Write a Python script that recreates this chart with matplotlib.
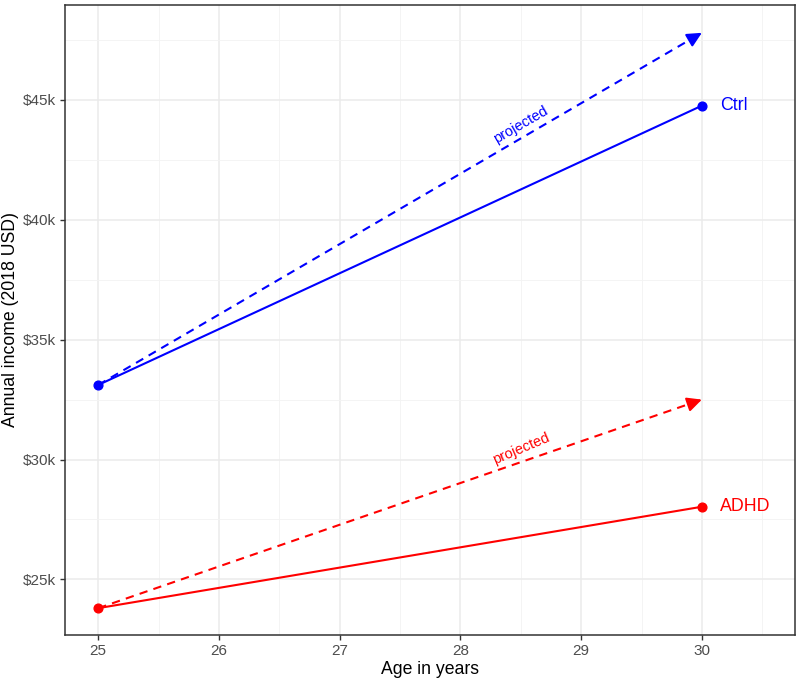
import matplotlib
matplotlib.use("Agg")
import matplotlib.pyplot as plt
from matplotlib.ticker import FuncFormatter, MultipleLocator

plt.rcParams["font.family"] = ["Liberation Sans", "DejaVu Sans"]

# dane
ages = [25, 30]
ctrl_income = [33110, 44760]
adhd_income = [23800, 28030]
ctrl_projected = [33110, 47800]
adhd_projected = [23800, 32500]
group_names = ["Ctrl", "ADHD"]
group_colors = ["blue", "red"]
text_angles = [30, 23]

fig = plt.figure(figsize=(8, 6.82), dpi=100)
ax = fig.add_axes([0.0816, 0.0689, 0.9124, 0.9245])

series = [(ctrl_income, ctrl_projected), (adhd_income, adhd_projected)]
for (actual, proj), name, col, ang in zip(series, group_names, group_colors, text_angles):
    ax.plot(ages, actual, color=col, lw=1.5, marker="o", markersize=6.3, zorder=3)
    ax.plot(ages, proj, color=col, lw=1.5, linestyle=(0, (4, 3)), zorder=3)
    # grot strzalki na koncu linii prognozy
    x0 = ages[1] - 0.02 * (ages[1] - ages[0])
    y0 = proj[1] - 0.02 * (proj[1] - proj[0])
    ax.annotate("", xy=(ages[1], proj[1]), xytext=(x0, y0),
                arrowprops=dict(arrowstyle="-|>,head_length=0.55,head_width=0.27",
                                color=col, lw=1.5,
                                mutation_scale=16, shrinkA=0, shrinkB=0),
                zorder=4)
    # napis "projected"
    xm = 28.5
    ym = proj[0] + (proj[1] - proj[0]) * (xm - ages[0]) / (ages[1] - ages[0])
    ax.annotate("projected", xy=(xm, ym), xytext=(0, 10), textcoords="offset points",
                color=col, fontsize=10.5, rotation=ang, ha="center", va="center",
                rotation_mode="anchor")
    ax.text(30.15, actual[1], name, color=col, fontsize=12.8, ha="left", va="center")

ax.set_xlim(24.727, 30.773)
ax.set_ylim(22680, 48980)
ax.xaxis.set_major_locator(MultipleLocator(1))
ax.xaxis.set_minor_locator(MultipleLocator(0.5))
ax.yaxis.set_major_locator(MultipleLocator(5000))
ax.yaxis.set_minor_locator(MultipleLocator(2500))
ax.yaxis.set_major_formatter(FuncFormatter(lambda v, p: f"${int(v / 1000)}k"))

ax.grid(which="major", color="#EBEBEB", lw=1.1, zorder=0)
ax.grid(which="minor", color="#F3F3F3", lw=0.6, zorder=0)
ax.set_axisbelow(True)
for s in ax.spines.values():
    s.set_color("#333333")
    s.set_linewidth(1.1)
ax.tick_params(which="major", length=3.5, width=1, color="#333333",
               labelcolor="#4D4D4D", labelsize=11, pad=3)
ax.tick_params(which="minor", length=0)

ax.set_xlabel("Age in years", fontsize=12.7, labelpad=2)
ax.set_ylabel("Annual income (2018 USD)", fontsize=12.7, labelpad=3)

fig.savefig("out.png", dpi=100)
